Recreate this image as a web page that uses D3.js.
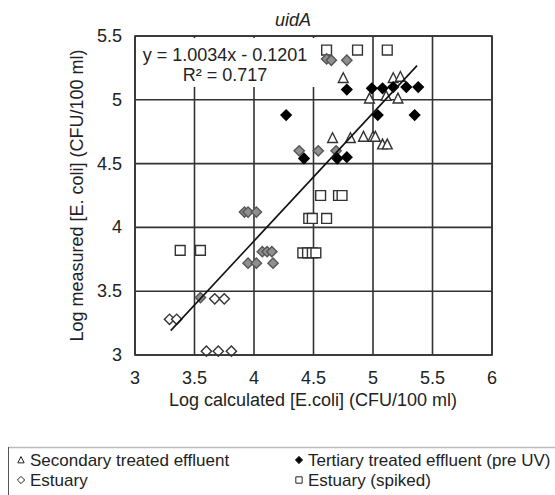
<!DOCTYPE html>
<html>
<head>
<meta charset="utf-8">
<script src="https://cdn.jsdelivr.net/npm/d3@7"></script>
<style>
  body { margin: 0; background: #fff; }
  svg { display: block; font-family: "Liberation Sans", Arial, sans-serif; }
</style>
</head>
<body>
<div id="chart"></div>
<script>
// Secondary treated effluent (open triangles)
const secX = [4.75, 5.17, 5.23, 4.97, 5.11, 5.21, 4.66, 4.81, 4.92, 5.00, 5.02, 5.08, 5.12];
const secY = [5.17, 5.17, 5.18, 5.01, 5.03, 5.01, 4.70, 4.70, 4.71, 4.71, 4.71, 4.65, 4.65];

// Tertiary treated effluent (pre UV) (black diamonds)
const terX = [4.27, 4.78, 4.99, 5.08, 5.17, 5.28, 5.38, 5.04, 5.35, 4.42, 4.70, 4.78];
const terY = [4.88, 5.08, 5.09, 5.09, 5.10, 5.10, 5.10, 4.88, 4.88, 4.54, 4.54, 4.55];

// Estuary (open diamonds)
const estX = [3.29, 3.35, 3.67, 3.75, 3.60, 3.70, 3.81];
const estY = [3.28, 3.28, 3.44, 3.44, 3.03, 3.03, 3.03];

// grey diamonds (no legend entry)
const greyX = [4.61, 4.65, 4.78, 4.38, 4.54, 4.69, 3.92, 3.95, 4.02, 4.07, 4.11, 4.15, 3.95, 4.02, 4.16, 3.55];
const greyY = [5.32, 5.31, 5.31, 4.60, 4.60, 4.60, 4.12, 4.12, 4.12, 3.81, 3.81, 3.81, 3.72, 3.72, 3.72, 3.45];

// Estuary (spiked) (open squares)
const spkX = [4.61, 4.87, 5.12, 4.56, 4.71, 4.74, 4.46, 4.49, 4.61, 3.38, 3.55, 4.41, 4.45, 4.49, 4.52];
const spkY = [5.39, 5.39, 5.39, 4.25, 4.25, 4.25, 4.07, 4.07, 4.07, 3.82, 3.82, 3.80, 3.80, 3.80, 3.80];

const xTicks = [3, 3.5, 4, 4.5, 5, 5.5, 6];
const yTicks = [3, 3.5, 4, 4.5, 5, 5.5];
const slope = 1.0034, intercept = -0.1201;
const fitRange = [3.3, 5.37];

const W = 555, H = 495;
const svg = d3.select('#chart').append('svg').attr('width', W).attr('height', H);

const x = d3.scaleLinear().domain([3, 6]).range([135, 492]);
const y = d3.scaleLinear().domain([3, 5.5]).range([355, 36]);

const gridCol = '#333';

// grid
svg.selectAll('.vg').data(xTicks).enter().append('line')
  .attr('x1', d => x(d)).attr('x2', d => x(d))
  .attr('y1', y(3)).attr('y2', y(5.5))
  .attr('stroke', gridCol).attr('stroke-width', 1.6);
svg.selectAll('.hg').data(yTicks).enter().append('line')
  .attr('x1', x(3)).attr('x2', x(6))
  .attr('y1', d => y(d)).attr('y2', d => y(d))
  .attr('stroke', gridCol).attr('stroke-width', 1.6);

// tick labels
svg.selectAll('.xl').data(xTicks).enter().append('text')
  .attr('x', d => x(d)).attr('y', 384)
  .attr('text-anchor', 'middle').attr('font-size', 18).attr('fill', '#222')
  .text(d => d);
svg.selectAll('.yl').data(yTicks).enter().append('text')
  .attr('x', 122).attr('y', d => y(d) + 6)
  .attr('text-anchor', 'end').attr('font-size', 18).attr('fill', '#222')
  .text(d => d);

// axis titles
svg.append('text').attr('x', 313).attr('y', 406)
  .attr('text-anchor', 'middle').attr('font-size', 18).attr('fill', '#222')
  .text('Log calculated [E.coli] (CFU/100 ml)');
svg.append('text')
  .attr('transform', `translate(83,${(y(3) + y(5.5)) / 2}) rotate(-90)`)
  .attr('text-anchor', 'middle').attr('font-size', 18).attr('fill', '#222')
  .text('Log measured [E. coli] (CFU/100 ml)');
svg.append('text').attr('x', 293).attr('y', 26)
  .attr('text-anchor', 'middle').attr('font-size', 18).attr('font-style', 'italic').attr('fill', '#222')
  .text('uidA');

// marker shapes
const diamond = {
  draw(ctx, size) {
    const r = Math.sqrt(size) / 2 * 1.15;
    ctx.moveTo(0, -r); ctx.lineTo(r, 0); ctx.lineTo(0, r); ctx.lineTo(-r, 0); ctx.closePath();
  }
};
const square = {
  draw(ctx, size) {
    const r = Math.sqrt(size) / 2;
    ctx.rect(-r, -r, 2 * r, 2 * r);
  }
};
const triangle = {
  draw(ctx, size) {
    const r = Math.sqrt(size) / 2;
    ctx.moveTo(0, -r * 1.1); ctx.lineTo(r, r * 0.9); ctx.lineTo(-r, r * 0.9); ctx.closePath();
  }
};

const zip = (xs, ys) => xs.map((v, i) => ({ x: v, y: ys[i] }));
function drawSeries(data, type, size, fill, stroke) {
  svg.append('g').selectAll('path').data(data).enter().append('path')
    .attr('d', d3.symbol().type(type).size(size))
    .attr('transform', d => `translate(${x(d.x)},${y(d.y)})`)
    .attr('fill', fill).attr('stroke', stroke).attr('stroke-width', 1.4);
}

drawSeries(zip(spkX, spkY), square, 96, '#fff', '#333');
drawSeries(zip(estX, estY), diamond, 80, '#fff', '#333');
drawSeries(zip(greyX, greyY), diamond, 80, '#8f8f8f', '#555');
drawSeries(zip(secX, secY), triangle, 96, '#fff', '#333');
drawSeries(zip(terX, terY), diamond, 80, '#000', '#000');

// trendline
svg.append('line')
  .attr('x1', x(fitRange[0])).attr('y1', y(slope * fitRange[0] + intercept))
  .attr('x2', x(fitRange[1])).attr('y2', y(slope * fitRange[1] + intercept))
  .attr('stroke', '#111').attr('stroke-width', 1.6);

// equation label
svg.append('rect').attr('x', 136).attr('y', 38).attr('width', 182).attr('height', 49).attr('fill', '#fff');
svg.append('text').attr('x', 225).attr('y', 61)
  .attr('text-anchor', 'middle').attr('font-size', 18).attr('fill', '#222')
  .text(`y = ${slope.toFixed(4)}x - ${Math.abs(intercept).toFixed(4)}`);
svg.append('text').attr('x', 225).attr('y', 81)
  .attr('text-anchor', 'middle').attr('font-size', 18).attr('fill', '#222')
  .text('R² = 0.717');

// plot border
svg.append('rect').attr('x', x(3)).attr('y', y(5.5))
  .attr('width', x(6) - x(3)).attr('height', y(3) - y(5.5))
  .attr('fill', 'none').attr('stroke', gridCol).attr('stroke-width', 1.6);

// legend
const legendItems = [
  { label: 'Secondary treated effluent', shape: triangle, fill: '#fff', col: 0, row: 0 },
  { label: 'Tertiary treated effluent (pre UV)', shape: diamond, fill: '#000', col: 1, row: 0 },
  { label: 'Estuary', shape: diamond, fill: '#fff', col: 0, row: 1 },
  { label: 'Estuary (spiked)', shape: square, fill: '#fff', col: 1, row: 1 }
];
svg.append('line').attr('x1', 8).attr('x2', W).attr('y1', 447.5).attr('y2', 447.5)
  .attr('stroke', '#bbb').attr('stroke-width', 1.5);
svg.append('line').attr('x1', 8.5).attr('x2', 8.5).attr('y1', 447).attr('y2', H)
  .attr('stroke', '#555').attr('stroke-width', 1);
const colX = [21, 299], rowY = [460, 480];
const lg = svg.append('g').selectAll('g').data(legendItems).enter().append('g')
  .attr('transform', d => `translate(${colX[d.col]},${rowY[d.row]})`);
lg.append('path').attr('d', d => d3.symbol().type(d.shape).size(40)())
  .attr('fill', d => d.fill).attr('stroke', '#222').attr('stroke-width', 1);
lg.append('text').attr('x', 9).attr('y', 6).attr('font-size', 17).attr('fill', '#222')
  .text(d => d.label);
</script>
</body>
</html>
